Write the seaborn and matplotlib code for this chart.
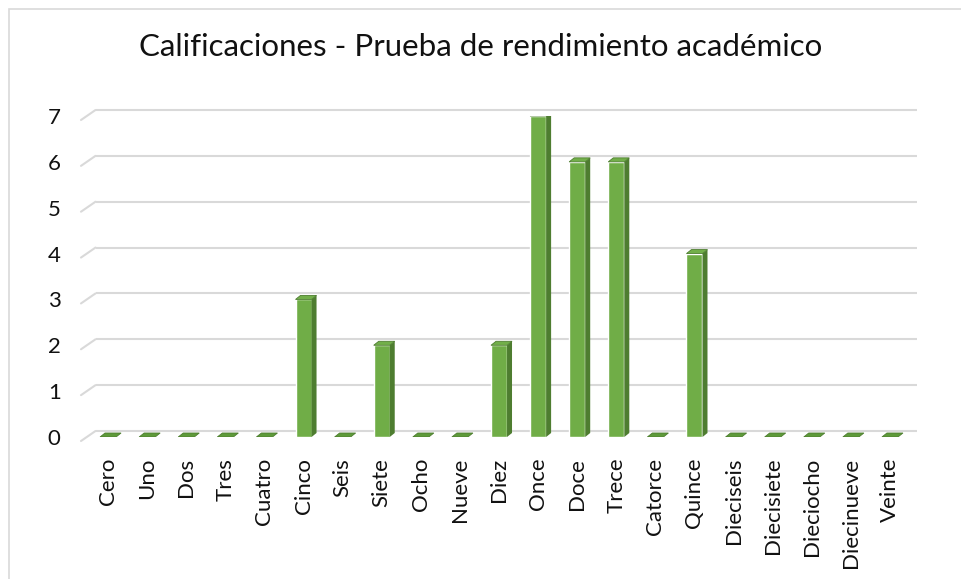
import matplotlib
matplotlib.use("Agg")
import matplotlib.pyplot as plt
import matplotlib.transforms as mtransforms
from matplotlib.patches import Polygon, Rectangle
import seaborn as sns
import pandas as pd

categorias = ["Cero", "Uno", "Dos", "Tres", "Cuatro", "Cinco", "Seis", "Siete",
              "Ocho", "Nueve", "Diez", "Once", "Doce", "Trece", "Catorce",
              "Quince", "Dieciseis", "Diecisiete", "Dieciocho", "Diecinueve",
              "Veinte"]
frecuencias = [0, 0, 0, 0, 0, 3, 0, 2, 0, 0, 2, 7, 6, 6, 0, 4, 0, 0, 0, 0, 0]
y_ticks = [0, 1, 2, 3, 4, 5, 6, 7]
titulo = "Calificaciones - Prueba de rendimiento académico"

sns.set_style("white")
plt.rcParams["font.family"] = ["Lato", "DejaVu Sans"]

df = pd.DataFrame({"cat": categorias, "n": frecuencias})

W, H = 961, 579
fig = plt.figure(figsize=(W / 100, H / 100), dpi=100)
# plot area (mid depth plane) in pixels
left, right, top, bottom = 88.5, 909.5, 116, 437
ax = fig.add_axes([left / W, 1 - bottom / H, (right - left) / W, (bottom - top) / H])

# outer chart border
fig.patches.append(Rectangle((9 / W, -0.01), 1.0, 1 - 9 / H + 0.01, transform=fig.transFigure,
                             fill=False, edgecolor="#D9D9D9", linewidth=1.2))

front = "#70AD47"
side = "#4E7D30"
topc = "#72AF4A"
txt = "#111111"

sns.barplot(data=df, x="cat", y="n", color=front, width=0.41, saturation=1,
            ax=ax, zorder=3)

ax.set_xlim(-0.5, len(categorias) - 0.5)
ax.set_ylim(0, 7)

# 3D-like gridlines: back wall + diagonal to the front
back = ax.transData + mtransforms.ScaledTranslation(7 / 100, 6 / 100, fig.dpi_scale_trans)
for v in y_ticks:
    ax.plot([-0.5, len(categorias) - 0.5], [v, v], color="#D9D9D9", lw=1.5,
            transform=back, zorder=1, solid_capstyle="butt", clip_on=False)
    y_disp = ax.transData.transform((-0.5, v))
    x0, y0 = fig.transFigure.inverted().transform((y_disp[0] - 7.5, y_disp[1] - 4))
    x1, y1 = fig.transFigure.inverted().transform((y_disp[0] + 7, y_disp[1] + 6))
    fig.lines.append(plt.Line2D([x0, x1], [y0, y1], color="#D9D9D9", lw=1.5,
                                transform=fig.transFigure))

# side and top faces of bars
dx, dy = 5, 4
for p in ax.patches:
    x, y = p.get_x(), p.get_y()
    w, h = p.get_width(), p.get_height()
    (ax0, ay0) = ax.transData.transform((x, y))
    (ax1, ay1) = ax.transData.transform((x + w, y + h))
    side_pts = [(ax1, ay0), (ax1 + dx, ay0 + dy), (ax1 + dx, ay1 + dy), (ax1, ay1)]
    top_pts = [(ax0, ay1), (ax1, ay1), (ax1 + dx, ay1 + dy), (ax0 + dx, ay1 + dy)]
    if h > 0:
        ax.add_patch(Polygon(side_pts, closed=True, transform=None,
                             facecolor=side, edgecolor="none", zorder=4))
    ax.add_patch(Polygon(top_pts, closed=True, transform=None,
                         facecolor=topc if h > 0 else "#5E9A3A",
                         edgecolor="#4E7D30", linewidth=0.6, zorder=4))

ax.set_yticks(y_ticks)
ax.set_yticklabels([str(v) for v in y_ticks], fontsize=16, color=txt)
ax.set_xticks(range(len(categorias)))
ax.set_xticklabels(categorias, rotation=90, fontsize=16, color=txt)
ax.tick_params(axis="y", length=0, pad=20)
ax.tick_params(axis="x", length=0, pad=15)
ax.set_xlabel("")
ax.set_ylabel("")
for s in ax.spines.values():
    s.set_visible(False)
ax.patch.set_alpha(0)

fig.text(0.5, 1 - 47 / H, titulo, ha="center", va="center", fontsize=22.5, color=txt)

fig.savefig("out.png", dpi=100)
